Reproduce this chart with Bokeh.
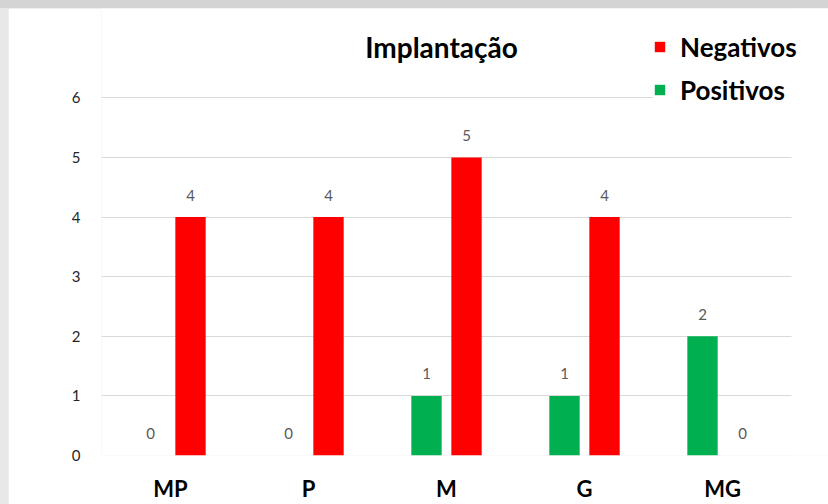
from bokeh.plotting import figure
from bokeh.models import (ColumnDataSource, Range1d, Legend, LegendItem, FixedTicker,
                          BoxAnnotation)
from bokeh.embed import file_html
from bokeh.resources import INLINE
from bokeh.core.properties import value

categories = ["MP", "P", "M", "G", "MG"]
negativos = [4, 4, 5, 4, 0]
positivos = [0, 0, 1, 1, 2]
y_ticks = [0, 1, 2, 3, 4, 5, 6]
title_text = "Implantação"

# category slot centres on a numeric axis (one unit per category)
centres = [i + 0.5 for i in range(len(categories))]
off = 0.145
bw = 0.22

source = ColumnDataSource(dict(
    x_pos=[c - off for c in centres],
    x_neg=[c + off for c in centres],
    neg=negativos,
    pos=positivos,
    neg_txt=[str(v) for v in negativos],
    pos_txt=[str(v) for v in positivos],
))

FONT = "Lato"
n = len(categories)

p = figure(x_range=Range1d(0, n * 1.0536), y_range=Range1d(0, 7.5),
           width=820, height=496, output_backend="svg", toolbar_location=None, title=None,
           min_border_left=93, min_border_right=0, min_border_top=0, min_border_bottom=47)

r_pos = p.vbar(x="x_pos", top="pos", width=bw, source=source,
               fill_color="#00B050", line_color=None)
r_neg = p.vbar(x="x_neg", top="neg", width=bw, source=source,
               fill_color="#FF0000", line_color=None)

for xc, col, txt in (("x_pos", "pos", "pos_txt"), ("x_neg", "neg", "neg_txt")):
    p.text(x=xc, y=col, text=txt, source=source,
           text_align="center", text_baseline="alphabetic", y_offset=-22,
           text_font_size="15px", text_color="#595959", text_font=value(FONT))

# chart title, centred over the middle category near the top of the frame
p.text(x=[centres[n // 2]], y=[6.853], text=[title_text], x_offset=-5,
       text_align="center", text_baseline="alphabetic", text_font=value(FONT),
       text_font_size="28px", text_font_style="bold", text_color="#000000")

# white cover so that the gridlines stop after the last category slot
p.add_layout(BoxAnnotation(left=n, fill_color="white", fill_alpha=1.0, line_color=None))

legend = Legend(items=[LegendItem(label="Negativos", renderers=[r_neg]),
                       LegendItem(label="Positivos", renderers=[r_pos])],
                location=(552, 349), padding=8, spacing=10, margin=0,
                glyph_width=13, glyph_height=13, label_height=33, label_standoff=14,
                label_text_font=FONT, label_text_font_size="26px", label_text_font_style="bold",
                label_text_color="#000000", border_line_color=None,
                background_fill_color="white", background_fill_alpha=1.0)
p.add_layout(legend, "center")

p.yaxis.ticker = FixedTicker(ticks=y_ticks)
p.yaxis.axis_line_color = None
p.yaxis.major_tick_line_color = None
p.yaxis.minor_tick_line_color = None
p.yaxis.major_tick_out = 0
p.yaxis.major_tick_in = 0
p.yaxis.major_label_standoff = 21
p.yaxis.major_label_text_font = FONT
p.yaxis.major_label_text_font_size = "15px"
p.yaxis.major_label_text_color = "#262626"

p.xaxis.ticker = FixedTicker(ticks=centres)
p.xaxis.major_label_overrides = {c: lab for c, lab in zip(centres, categories)}
p.xaxis.axis_line_color = None
p.xaxis.major_tick_line_color = None
p.xaxis.minor_tick_line_color = None
p.xaxis.major_tick_out = 0
p.xaxis.major_tick_in = 0
p.xaxis.major_label_standoff = 19
p.xaxis.major_label_text_font = FONT
p.xaxis.major_label_text_font_size = "22px"
p.xaxis.major_label_text_font_style = "bold"
p.xaxis.major_label_text_color = "#000000"

p.xgrid.grid_line_color = None
p.ygrid.grid_line_color = "#d9d9d9"
p.outline_line_color = None
p.background_fill_color = "white"
p.border_fill_color = "white"

html = file_html(p, INLINE)
html = html.replace("</head>", "<style>html,body{background:linear-gradient(#d4d4d4 0 8px,#e8e8e8 8px) !important;} body{padding:8px 0 0 8px !important;}</style></head>", 1)
open("out.html", "w").write(html)
